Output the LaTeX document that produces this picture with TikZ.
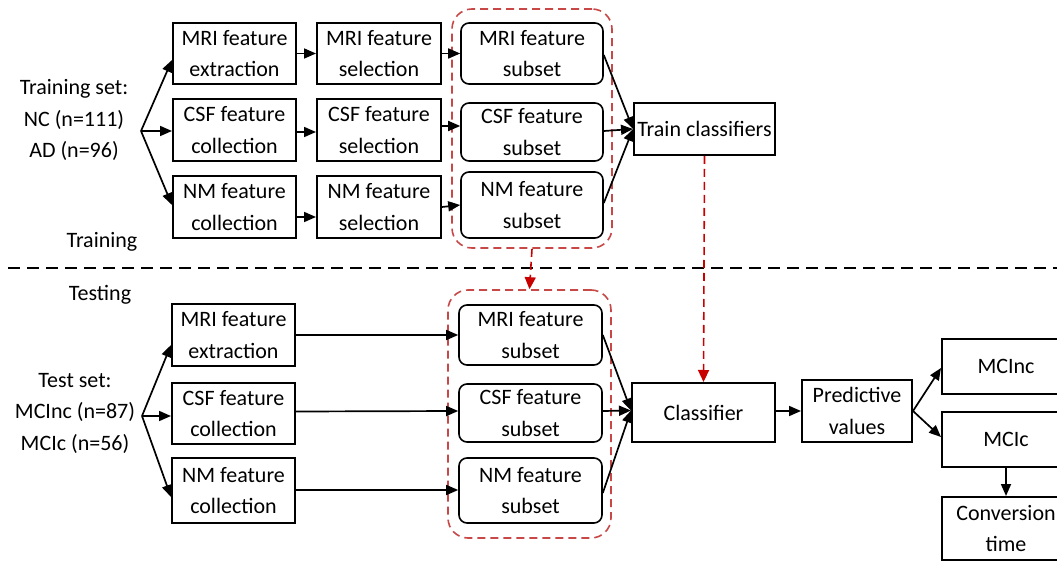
\documentclass[tikz,border=0pt]{standalone}
\usepackage{fontspec}
\setmainfont{Carlito}
\usetikzlibrary{arrows.meta}
\definecolor{grpred}{RGB}{200,72,72}
\definecolor{arrred}{RGB}{200,0,0}
\begin{document}
\begin{tikzpicture}[x=1pt,y=-1pt,
  txt/.style={align=center, inner sep=0pt, font=\fontsize{22}{31.5}\selectfont},
  box/.style={txt, draw, line width=2pt},
  rbox/.style={box, rounded corners=8pt, line width=1.6pt},
  grp/.style={draw=grpred, dashed, dash pattern=on 8pt off 5pt, line width=1.6pt, rounded corners=20pt, inner sep=0pt},
  arr/.style={line width=1.7pt, -{Triangle[length=12pt,width=10pt]}},
  redarr/.style={draw=arrred, line width=1.6pt, dash pattern=on 8pt off 5pt, -{Triangle[length=12pt,width=11pt,fill=arrred]}}
]
\useasboundingbox (0,0) rectangle (1057,561);

% ---------- Training ----------
\node[txt] (trs) at (74,120) {Training set:\\NC (n=111)\\AD (n=96)};
\coordinate (f1) at (141,131);
\node[box, minimum width=123, minimum height=61] (me) at (234.5,53.5) {MRI feature\\extraction};
\node[box, minimum width=123, minimum height=62] (ce) at (234.5,130) {CSF feature\\collection};
\node[box, minimum width=123, minimum height=62] (ne) at (234.5,207) {NM feature\\collection};
\node[box, minimum width=124, minimum height=61] (ms) at (379,53.5) {MRI feature\\selection};
\node[box, minimum width=124, minimum height=62] (cs) at (379,130) {CSF feature\\selection};
\node[box, minimum width=124, minimum height=62] (ns) at (379,207) {NM feature\\selection};
\node[grp, minimum width=160, minimum height=239] (g1) at (532,128.5) {};
\node[rbox, minimum width=142, minimum height=61] (msub) at (532,53.5) {MRI feature\\subset};
\node[rbox, minimum width=142, minimum height=58] (csub) at (532,132) {CSF feature\\subset};
\node[rbox, minimum width=142, minimum height=66] (nsub) at (532,205) {NM feature\\subset};
\node[box, minimum width=141, minimum height=52] (tc) at (704.5,129) {Train classifiers};

\draw[arr] (f1) -- ([yshift=-6.5pt]me.west);
\draw[arr] (f1) -- ([yshift=-1pt]ce.west);
\draw[arr] (f1) -- ([yshift=2pt]ne.west);
\draw[arr] (me.east) -- (ms.west);
\draw[arr] ([yshift=-2pt]ce.east) -- ([yshift=-2pt]cs.west);
\draw[arr] ([yshift=-10pt]ne.east) -- ([yshift=-10pt]ns.west);
\draw[arr] (ms.east) -- (msub.west);
\draw[arr] ([yshift=4pt]cs.east) -- ([yshift=6pt]csub.west);
\draw[arr] (ns.east) -- (nsub.west);
\draw[arr] ([yshift=-1.5pt]msub.east) -- (tc.west);
\draw[arr] ([yshift=1pt]csub.east) -- (tc.west);
\draw[arr] ([yshift=2pt]nsub.east) -- (tc.west);

\node[txt] (trl) at (102,242) {Training};
\coordinate (dl) at (8,268);
\coordinate (dr) at (1057,268);
\draw[line width=1.3pt, dash pattern=on 12pt off 7pt] (dl) -- (dr);
\node[txt] (tsl) at (100,295) {Testing};

% ---------- Testing ----------
\node[txt] (tss) at (75,413) {Test set:\\MCInc (n=87)\\MCIc (n=56)};
\coordinate (f2) at (142,416);
\node[box, minimum width=123, minimum height=62] (me2) at (233.5,335) {MRI feature\\extraction};
\node[box, minimum width=123, minimum height=61] (ce2) at (233.5,413.5) {CSF feature\\collection};
\node[box, minimum width=123, minimum height=65] (ne2) at (233.5,490.5) {NM feature\\collection};
\node[grp, minimum width=163, minimum height=248] (g2) at (529.5,414) {};
\node[rbox, minimum width=143, minimum height=60] (msub2) at (530.5,335) {MRI feature\\subset};
\node[rbox, minimum width=143, minimum height=58] (csub2) at (530.5,413) {CSF feature\\subset};
\node[rbox, minimum width=143, minimum height=65] (nsub2) at (530.5,490.5) {NM feature\\subset};
\node[box, minimum width=143, minimum height=59] (cl) at (703.5,412.5) {Classifier};
\node[box, minimum width=110, minimum height=62] (pv) at (857,411) {Predictive\\values};
\node[box, minimum width=128, minimum height=55] (mcinc) at (1006,366.5) {MCInc};
\node[box, minimum width=128, minimum height=55] (mcic) at (1006,439.5) {MCIc};
\node[box, minimum width=128, minimum height=63] (ct) at (1006,528.5) {Conversion\\time};

\draw[arr] (f2) -- ([yshift=-10pt]me2.west);
\draw[arr] (f2) -- ([yshift=-2.5pt]ce2.west);
\draw[arr] (f2) -- ([yshift=-6.5pt]ne2.west);
\draw[arr] (me2.east) -- (msub2.west);
\draw[arr] ([yshift=2pt]ce2.east) -- ([yshift=2pt]csub2.west);
\draw[arr] ([yshift=0.5pt]ne2.east) -- ([yshift=0.5pt]nsub2.west);
\draw[arr] (msub2.east) -- ([yshift=2pt]cl.west);
\draw[arr] ([yshift=2pt]csub2.east) -- ([yshift=2pt]cl.west);
\draw[arr] ([yshift=-2.5pt]nsub2.east) -- ([yshift=2pt]cl.west);
\draw[arr] ([yshift=1.5pt]cl.east) -- (pv.west);
\draw[arr] (pv.east) -- ([yshift=-1.5pt]mcinc.west);
\draw[arr] (pv.east) -- ([yshift=2.5pt]mcic.west);
\draw[arr] (mcic.south) -- (ct.north);

% ---------- red links ----------
\draw[redarr] (g1.south) -- (g2.north);
\draw[redarr] (tc.south) -- (cl.north);
\end{tikzpicture}
\end{document}
